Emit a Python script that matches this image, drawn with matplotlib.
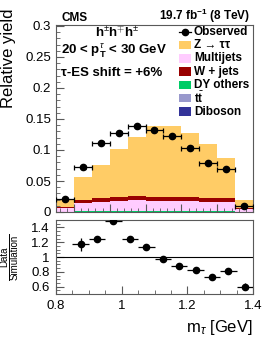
import numpy as np
import matplotlib.pyplot as plt
from matplotlib.ticker import MultipleLocator, FuncFormatter
from matplotlib.patches import Rectangle
from matplotlib.lines import Line2D

plt.rcParams['font.family'] = ['Liberation Sans', 'DejaVu Sans']
plt.rcParams['mathtext.fontset'] = 'custom'
plt.rcParams['mathtext.rm'] = 'Liberation Sans'
plt.rcParams['mathtext.it'] = 'Liberation Sans:italic'
plt.rcParams['mathtext.bf'] = 'Liberation Sans:bold'

# m_tau bins (upper panel starts at 0.85, ratio panel at 0.8)
edges = np.array([0.85, 0.90, 0.95, 1.00, 1.05, 1.10, 1.15, 1.20, 1.25, 1.30, 1.35, 1.40])
centers = 0.5 * (edges[:-1] + edges[1:])

# stacked simulation, bottom to top
diboson = [0.0001, 0.0002, 0.0002, 0.0002, 0.0002, 0.0002, 0.0002, 0.0002, 0.0002, 0.0002, 0.0001]
ttbar = [0.0002, 0.0004, 0.0004, 0.0004, 0.0004, 0.0004, 0.0004, 0.0004, 0.0004, 0.0004, 0.0002]
dyothers = [0.0004, 0.0008, 0.0008, 0.0008, 0.0008, 0.0008, 0.0008, 0.0008, 0.0008, 0.0008, 0.0004]
multijets = [0.0055, 0.0130, 0.0155, 0.0170, 0.0175, 0.0165, 0.0160, 0.0160, 0.0155, 0.0150, 0.0040]
wjets = [0.0015, 0.0055, 0.0060, 0.0065, 0.0070, 0.0065, 0.0065, 0.0060, 0.0055, 0.0055, 0.0012]
ztt = [0.0113, 0.0371, 0.0531, 0.0771, 0.0951, 0.1146, 0.1151, 0.1036, 0.0866, 0.0651, 0.0131]

# observed
data = [0.021, 0.072, 0.112, 0.128, 0.138, 0.133, 0.123, 0.104, 0.079, 0.069, 0.010]
data_err = [0.0015, 0.002, 0.002, 0.002, 0.002, 0.002, 0.002, 0.002, 0.002, 0.002, 0.0012]

# data / simulation
ratio = [1.17, 1.25, 1.48, 1.24, 1.13, 0.97, 0.88, 0.83, 0.73, 0.81, 0.60]
ratio_err = [0.085, 0.03, 0.03, 0.02, 0.02, 0.015, 0.015, 0.02, 0.02, 0.025, 0.05]

colors = {'ztt': '#ffcc66', 'multijets': '#ffccff', 'wjets': '#990000',
          'dyothers': '#00cc66', 'ttbar': '#9999cc', 'diboson': '#333399'}
stack = [(diboson, 'diboson'), (ttbar, 'ttbar'), (dyothers, 'dyothers'),
         (multijets, 'multijets'), (wjets, 'wjets'), (ztt, 'ztt')]
legend_rows = [('Observed', None),
               ('Z \u2192 \u03c4\u03c4', 'ztt'),
               ('Multijets', 'multijets'),
               ('W + jets', 'wjets'),
               ('DY others', 'dyothers'),
               (r't$\bar{\mathbf{t}}$', 'ttbar'),
               ('Diboson', 'diboson')]

W, H = 266, 337
fig = plt.figure(figsize=(W / 100, H / 100), dpi=100)
frame_col = '0.35'
fmt = FuncFormatter(lambda v, p: f'{v:g}')

# ---- upper panel
ax = fig.add_axes([56 / W, 1 - 212 / H, 197 / W, 187 / H])
bottom = np.zeros(len(centers))
for vals, key in stack:
    top = bottom + np.array(vals)
    ax.stairs(top, edges, baseline=bottom, fill=True, color=colors[key], lw=0)
    bottom = top
ax.errorbar(centers, data, xerr=0.025, yerr=data_err, fmt='o', color='k',
            ms=4.5, elinewidth=0.9, capsize=1.8, capthick=0.9, zorder=5)
ax.set_xlim(0.85, 1.4)
ax.set_ylim(0, 187 / 620)
ax.yaxis.set_major_locator(MultipleLocator(0.05))
ax.yaxis.set_minor_locator(MultipleLocator(0.01))
ax.xaxis.set_major_locator(MultipleLocator(0.1))
ax.xaxis.set_minor_locator(MultipleLocator(0.02))
ax.yaxis.set_major_formatter(fmt)
ax.tick_params(which='both', direction='in', top=False, right=False,
               labelbottom=False, color=frame_col, labelsize=9.5, pad=3.5)
ax.tick_params(which='major', length=6)
ax.tick_params(which='minor', length=3)
for s in ax.spines.values():
    s.set_color(frame_col)

# ---- ratio panel
ax2 = fig.add_axes([56 / W, 1 - 294 / H, 197 / W, 74 / H])
ax2.axhline(1, color='k', lw=0.8)
ax2.errorbar(centers, ratio, xerr=0.025, yerr=ratio_err, fmt='o', color='k',
             ms=4.5, elinewidth=0.9, capsize=0, zorder=5)
ax2.set_xlim(0.8, 1.4)
ax2.set_ylim(0.5, 1.5)
ax2.xaxis.set_major_locator(MultipleLocator(0.2))
ax2.xaxis.set_minor_locator(MultipleLocator(0.05))
ax2.yaxis.set_major_locator(MultipleLocator(0.2))
ax2.yaxis.set_minor_locator(MultipleLocator(0.05))
ax2.xaxis.set_major_formatter(fmt)
ax2.yaxis.set_major_formatter(fmt)
ax2.tick_params(which='both', direction='in', top=False, right=False,
                color=frame_col, labelsize=9.5, pad=4.5)
ax2.tick_params(which='major', length=6)
ax2.tick_params(which='minor', length=3)
for s in ax2.spines.values():
    s.set_color(frame_col)

# ---- axis titles
fig.text(9 / W, 1 - 8 / H, 'Relative yield', rotation=90, ha='center', va='top', fontsize=12)
fig.text(4 / W, 1 - 257 / H, 'Data', rotation=90, ha='center', va='center', fontsize=7)
fig.text(14.5 / W, 1 - 257 / H, 'Simulation', rotation=90, ha='center', va='center', fontsize=7)
fig.add_artist(Line2D([9 / W] * 2, [1 - 234 / H, 1 - 280 / H], color='k', lw=0.7,
                      transform=fig.transFigure))
fig.text(253 / W, 1 - 332 / H, r'm$_{\tau}$ [GeV]', ha='right', va='baseline', fontsize=12)

# ---- header and labels
fig.text(62 / W, 1 - 21 / H, 'CMS', weight='bold', fontsize=8.5, va='baseline')
fig.text(250 / W, 1 - 20 / H, r'19.7 fb$^{\mathbf{-1}}$ (8 TeV)', ha='right', va='baseline',
         weight='bold', fontsize=8.5)
fig.text(117 / W, 1 - 37 / H, r'h$^{\pm}$h$^{\mp}$h$^{\pm}$', ha='center', va='baseline',
         weight='bold', fontsize=9.5)
fig.text(61 / W, 1 - 54 / H, r'20 < p$_{\mathbf{T}}^{\tau}$ < 30 GeV', ha='left', va='baseline',
         weight='bold', fontsize=9.5)
fig.text(61 / W, 1 - 76 / H, '\u03c4-ES shift = +6%', ha='left', va='baseline',
         weight='bold', fontsize=9.5)

# ---- legend
for i, (lab, key) in enumerate(legend_rows):
    yc = 1 - (31.7 + 13.3 * i) / H
    if key is None:
        fig.add_artist(Line2D([178.7 / W, 191.3 / W], [yc, yc], color='k', lw=0.9,
                              transform=fig.transFigure))
        fig.add_artist(Line2D([185 / W], [yc], marker='o', ms=4.5, color='k',
                              transform=fig.transFigure))
    else:
        fig.add_artist(Rectangle((178.7 / W, yc - 4.2 / H), 12.6 / W, 8.4 / H,
                                 facecolor=colors[key], edgecolor='none',
                                 transform=fig.transFigure))
    fig.text(194 / W, yc, lab, va='center', ha='left', weight='bold', fontsize=8.5)

fig.savefig('out.png', dpi=100)
